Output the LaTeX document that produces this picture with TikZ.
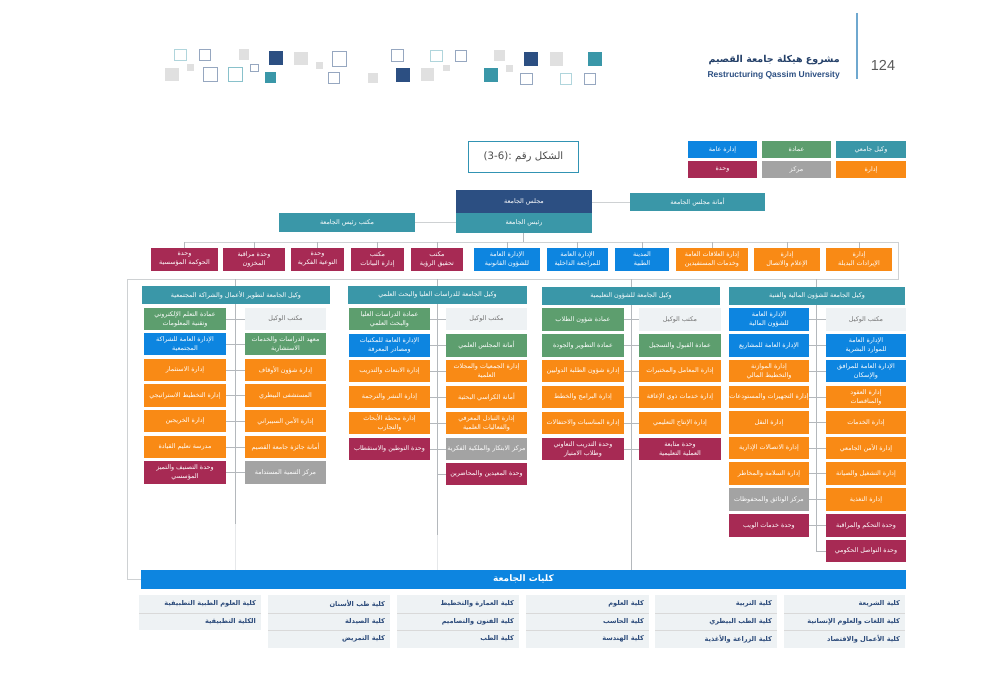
\documentclass[tikz,border=0pt]{standalone}
\usepackage{fontspec}
\setmainfont{Liberation Sans}
\usetikzlibrary{backgrounds}
\TeXXeTstate=1
\newfontfamily\arabicfont[Script=Arabic]{DejaVu Sans}
\newcommand{\AR}[1]{\beginR #1\endR}
\definecolor{cteal}{HTML}{3A97A8}
\definecolor{cgreen}{HTML}{5D9E6E}
\definecolor{cblue}{HTML}{0D85E0}
\definecolor{corange}{HTML}{F98A15}
\definecolor{cmaroon}{HTML}{A72A54}
\definecolor{cgray}{HTML}{A3A3A3}
\definecolor{clight}{HTML}{EEF2F4}
\definecolor{cnavy}{HTML}{2C4F82}
\definecolor{ctext}{HTML}{2B4A7A}
\definecolor{cline}{HTML}{B4B8BC}
\definecolor{cfaint}{HTML}{E6E8EA}
\definecolor{csq}{HTML}{E0E0E0}
\definecolor{crule}{HTML}{6FA8CF}
\tikzset{
  boxbase/.style={inner sep=0pt,outer sep=0pt,align=center,text=white,
    font=\arabicfont\fontsize{6.4}{9}\selectfont},
  vteal/.style={boxbase,fill=cteal},
  vgreen/.style={boxbase,fill=cgreen},
  vblue/.style={boxbase,fill=cblue},
  vorange/.style={boxbase,fill=corange},
  vmaroon/.style={boxbase,fill=cmaroon},
  vgray/.style={boxbase,fill=cgray},
  vlight/.style={boxbase,fill=clight,text=black!55},
  vnavy/.style={boxbase,fill=cnavy},
  collegecell/.style={inner sep=0pt,outer sep=0pt,fill=clight,
    text=ctext,font=\arabicfont\bfseries\fontsize{6.6}{8}\selectfont},
  conn/.style={draw=cline,line width=.6pt},
  connlight/.style={draw=cline!65,line width=.8pt},
  connfaint/.style={draw=cfaint,line width=.6pt},
  sqfill/.style={fill=#1,draw=none},
  sqline/.style={draw=#1,line width=.7pt,fill=none}
}
% name, style, x0, y0, x1, y1, text
\newcommand{\Bx}[7]{%
  \pgfmathsetmacro{\bxw}{#5-#3}\pgfmathsetmacro{\bxh}{#6-#4}%
  \node[#2,minimum width=\bxw pt,minimum height=\bxh pt] (#1) at ({(#3+#5)/2},{(#4+#6)/2}) {#7};}
% college cell: name, x0, y0, x1, y1, text
\newcommand{\Cc}[6]{%
  \pgfmathsetmacro{\bxw}{#4-#2}\pgfmathsetmacro{\bxh}{#5-#3}%
  \node[collegecell,minimum width=\bxw pt,minimum height=\bxh pt] (#1) at ({(#2+#4)/2},{(#3+#5)/2}) {};
  \node[collegecell,fill=none,anchor=east] (#1t) at ({#4-5},{(#3+#5)/2}) {#6};
}
\newcommand{\Sq}[5]{\path[#5] (#1,#2) rectangle (#3,#4);}
\begin{document}
\begin{tikzpicture}[x=1pt,y=-1pt]
\useasboundingbox (0,0) rectangle (1000,698);

% decorative squares
\foreach \a/\b/\c/\d in {239/49/249/60,294/52/308/65,316/62/323/69,494/50/505/61,550/52/563/66,165/68/179/81,187/64/194/71,368/73/378/83,421/68/434/81,443/65/450/71,506/65/513/72}
  {\Sq{\a}{\b}{\c}{\d}{sqfill=csq}}
\foreach \a/\b/\c/\d in {269/51/283/65,524/52/538/66,396/68/410/82}
  {\Sq{\a}{\b}{\c}{\d}{sqfill=cnavy}}
\foreach \a/\b/\c/\d in {588/52/602/66,265/72/276/83,484/68/498/82}
  {\Sq{\a}{\b}{\c}{\d}{sqfill=cteal}}
\foreach \a/\b/\c/\d in {174/49/186/60,430/50/442/61,560/73/571/84}
  {\Sq{\a}{\b}{\c}{\d}{sqline=cteal!40}}
\foreach \a/\b/\c/\d in {199/49/210/60,332/51/346/66,391/49/403/61,455/50/466/61,203/67/217/81,250/64/258/71,328/72/339/83,520/73/532/84,584/73/595/84}
  {\Sq{\a}{\b}{\c}{\d}{sqline=cnavy!50}}
\Sq{228}{67}{242}{81}{sqline=cteal!60}

% page header
\coordinate (rulea) at (857,13);
\coordinate (ruleb) at (857,79);
\draw[draw=crule,line width=1.2pt] (rulea) -- (ruleb);
\node[anchor=center,text=black!65,font=\fontsize{14.5}{16}\selectfont] (page) at (883,65) {124};
\node[anchor=east,text=cnavy!80!black,inner sep=0pt,font=\arabicfont\bfseries\fontsize{9.5}{12}\selectfont] (ptitle) at (840,60) {\AR{مشروع هيكلة جامعة القصيم}};
\node[anchor=east,text=cnavy,inner sep=0pt,font=\bfseries\fontsize{8.5}{10}\selectfont] (psub) at (840,75) {Restructuring Qassim University};

% legend
\Bx{la}{vblue}{688}{141}{757}{158}{\AR{إدارة عامة}}
\Bx{lb}{vgreen}{762}{141}{831}{158}{\AR{عمادة}}
\Bx{lc}{vteal}{836}{141}{906}{158}{\AR{وكيل جامعي}}
\Bx{ld}{vmaroon}{688}{161}{757}{178}{\AR{وحدة}}
\Bx{le}{vgray}{762}{161}{831}{178}{\AR{مركز}}
\Bx{lf}{vorange}{836}{161}{906}{178}{\AR{إدارة}}

% figure title
\node[draw=cteal!80!cblue,line width=1pt,fill=white,minimum width=110pt,minimum height=31pt,inner sep=0pt,text=black!70,
  font=\arabicfont\fontsize{10.2}{12}\selectfont] (title) at (523.5,157) {\beginR الشكل رقم \beginL:(3-6)\endL\endR};

% top of chart
\Bx{council}{vnavy}{456}{190}{592}{213}{\AR{مجلس الجامعة}}
\Bx{pres}{vteal}{456}{213}{592}{233}{\AR{رئيس الجامعة}}
\Bx{secr}{vteal}{630}{193}{765}{211}{\AR{أمانة مجلس الجامعة}}
\Bx{poff}{vteal}{279}{213}{415}{232}{\AR{مكتب رئيس الجامعة}}

% row of direct units
\Bx{r1}{vmaroon}{151}{248}{218}{271}{\AR{وحدة}\\\AR{الحوكمة المؤسسية}}
\Bx{r2}{vmaroon}{223}{248}{285}{271}{\AR{وحدة مراقبة}\\\AR{المخزون}}
\Bx{r3}{vmaroon}{291}{248}{344}{271}{\AR{وحدة}\\\AR{التوعية الفكرية}}
\Bx{r4}{vmaroon}{351}{248}{404}{271}{\AR{مكتب}\\\AR{إدارة البيانات}}
\Bx{r5}{vmaroon}{411}{248}{463}{271}{\AR{مكتب}\\\AR{تحقيق الرؤية}}
\Bx{r6}{vblue}{474}{248}{540}{271}{\AR{الإدارة العامة}\\\AR{للشؤون القانونية}}
\Bx{r7}{vblue}{547}{248}{608}{271}{\AR{الإدارة العامة}\\\AR{للمراجعة الداخلية}}
\Bx{r8}{vblue}{615}{248}{669}{271}{\AR{المدينة}\\\AR{الطبية}}
\Bx{r9}{vorange}{676}{248}{748}{271}{\AR{إدارة العلاقات العامة}\\\AR{وخدمات المستفيدين}}
\Bx{r10}{vorange}{754}{248}{820}{271}{\AR{إدارة}\\\AR{الإعلام والاتصال}}
\Bx{r11}{vorange}{826}{248}{892}{271}{\AR{إدارة}\\\AR{الإيرادات البديلة}}

% vice rectors
\Bx{h1}{vteal}{142}{286}{330}{304}{\AR{وكيل الجامعة لتطوير الأعمال والشراكة المجتمعية}}
\Bx{h2}{vteal}{348}{286}{527}{304}{\AR{وكيل الجامعة للدراسات العليا والبحث العلمي}}
\Bx{h3}{vteal}{542}{287}{720}{305}{\AR{وكيل الجامعة للشؤون التعليمية}}
\Bx{h4}{vteal}{729}{287}{905}{305}{\AR{وكيل الجامعة للشؤون المالية والفنية}}

% column 1
\Bx{a1l}{vgreen}{144}{308}{226}{330}{\AR{عمادة التعلم الإلكتروني}\\\AR{وتقنية المعلومات}}
\Bx{a2l}{vblue}{144}{333}{226}{355}{\AR{الإدارة العامة للشراكة}\\\AR{المجتمعية}}
\Bx{a3l}{vorange}{144}{359}{226}{381}{\AR{إدارة الاستثمار}}
\Bx{a4l}{vorange}{144}{384}{226}{407}{\AR{إدارة التخطيط الاستراتيجي}}
\Bx{a5l}{vorange}{144}{410}{226}{432}{\AR{إدارة الخريجين}}
\Bx{a6l}{vorange}{144}{436}{226}{458}{\AR{مدرسة تعليم القيادة}}
\Bx{a7l}{vmaroon}{144}{461}{226}{484}{\AR{وحدة التصنيف والتميز}\\\AR{المؤسسي}}
\Bx{a1r}{vlight}{245}{308}{326}{330}{\AR{مكتب الوكيل}}
\Bx{a2r}{vgreen}{245}{333}{326}{355}{\AR{معهد الدراسات والخدمات}\\\AR{الاستشارية}}
\Bx{a3r}{vorange}{245}{359}{326}{381}{\AR{إدارة شؤون الأوقاف}}
\Bx{a4r}{vorange}{245}{384}{326}{407}{\AR{المستشفى البيطري}}
\Bx{a5r}{vorange}{245}{410}{326}{432}{\AR{إدارة الأمن السيبراني}}
\Bx{a6r}{vorange}{245}{436}{326}{458}{\AR{أمانة جائزة جامعة القصيم}}
\Bx{a7r}{vgray}{245}{461}{326}{484}{\AR{مركز التنمية المستدامة}}

% column 2
\Bx{b1l}{vgreen}{349}{308}{430}{330}{\AR{عمادة الدراسات العليا}\\\AR{والبحث العلمي}}
\Bx{b2l}{vblue}{349}{334}{430}{357}{\AR{الإدارة العامة للمكتبات}\\\AR{ومصادر المعرفة}}
\Bx{b3l}{vorange}{349}{360}{430}{382}{\AR{إدارة الابتعاث والتدريب}}
\Bx{b4l}{vorange}{349}{386}{430}{408}{\AR{إدارة النشر والترجمة}}
\Bx{b5l}{vorange}{349}{412}{430}{434}{\AR{إدارة محطة الأبحاث}\\\AR{والتجارب}}
\Bx{b6l}{vmaroon}{349}{438}{430}{460}{\AR{وحدة التوطين والاستقطاب}}
\Bx{b1r}{vlight}{446}{308}{527}{330}{\AR{مكتب الوكيل}}
\Bx{b2r}{vgreen}{446}{334}{527}{357}{\AR{أمانة المجلس العلمي}}
\Bx{b3r}{vorange}{446}{360}{527}{382}{\AR{إدارة الجمعيات والمجلات}\\\AR{العلمية}}
\Bx{b4r}{vorange}{446}{386}{527}{408}{\AR{أمانة الكراسي البحثية}}
\Bx{b5r}{vorange}{446}{412}{527}{434}{\AR{إدارة التبادل المعرفي}\\\AR{والفعاليات العلمية}}
\Bx{b6r}{vgray}{446}{438}{527}{460}{\AR{مركز الابتكار والملكية الفكرية}}
\Bx{b7r}{vmaroon}{446}{463}{527}{485}{\AR{وحدة المعيدين والمحاضرين}}

% column 3
\Bx{c1l}{vgreen}{542}{308}{624}{331}{\AR{عمادة شؤون الطلاب}}
\Bx{c2l}{vgreen}{542}{334}{624}{357}{\AR{عمادة التطوير والجودة}}
\Bx{c3l}{vorange}{542}{360}{624}{382}{\AR{إدارة شؤون الطلبة الدوليين}}
\Bx{c4l}{vorange}{542}{386}{624}{408}{\AR{إدارة البرامج والخطط}}
\Bx{c5l}{vorange}{542}{412}{624}{434}{\AR{إدارة المناسبات والاحتفالات}}
\Bx{c6l}{vmaroon}{542}{438}{624}{460}{\AR{وحدة التدريب التعاوني}\\\AR{وطلاب الامتياز}}
\Bx{c1r}{vlight}{639}{308}{721}{331}{\AR{مكتب الوكيل}}
\Bx{c2r}{vgreen}{639}{334}{721}{357}{\AR{عمادة القبول والتسجيل}}
\Bx{c3r}{vorange}{639}{360}{721}{382}{\AR{إدارة المعامل والمختبرات}}
\Bx{c4r}{vorange}{639}{386}{721}{408}{\AR{إدارة خدمات ذوي الإعاقة}}
\Bx{c5r}{vorange}{639}{412}{721}{434}{\AR{إدارة الإنتاج التعليمي}}
\Bx{c6r}{vmaroon}{639}{438}{721}{460}{\AR{وحدة متابعة}\\\AR{العملية التعليمية}}

% column 4
\Bx{d1l}{vblue}{729}{308}{809}{331}{\AR{الإدارة العامة}\\\AR{للشؤون المالية}}
\Bx{d2l}{vblue}{729}{334}{809}{357}{\AR{الإدارة العامة للمشاريع}}
\Bx{d3l}{vorange}{729}{360}{809}{382}{\AR{إدارة الموازنة}\\\AR{والتخطيط المالي}}
\Bx{d4l}{vorange}{729}{386}{809}{408}{\AR{إدارة التجهيزات والمستودعات}}
\Bx{d5l}{vorange}{729}{411}{809}{434}{\AR{إدارة النقل}}
\Bx{d6l}{vorange}{729}{437}{809}{459}{\AR{إدارة الاتصالات الإدارية}}
\Bx{d7l}{vorange}{729}{462}{809}{485}{\AR{إدارة السلامة والمخاطر}}
\Bx{d8l}{vgray}{729}{488}{809}{511}{\AR{مركز الوثائق والمحفوظات}}
\Bx{d9l}{vmaroon}{729}{514}{809}{537}{\AR{وحدة خدمات الويب}}
\Bx{d1r}{vlight}{826}{308}{906}{331}{\AR{مكتب الوكيل}}
\Bx{d2r}{vblue}{826}{334}{906}{357}{\AR{الإدارة العامة}\\\AR{للموارد البشرية}}
\Bx{d3r}{vblue}{826}{360}{906}{382}{\AR{الإدارة العامة للمرافق}\\\AR{والإسكان}}
\Bx{d4r}{vorange}{826}{386}{906}{408}{\AR{إدارة العقود}\\\AR{والمناقصات}}
\Bx{d5r}{vorange}{826}{411}{906}{434}{\AR{إدارة الخدمات}}
\Bx{d6r}{vorange}{826}{437}{906}{459}{\AR{إدارة الأمن الجامعي}}
\Bx{d7r}{vorange}{826}{462}{906}{485}{\AR{إدارة التشغيل والصيانة}}
\Bx{d8r}{vorange}{826}{488}{906}{511}{\AR{إدارة التغذية}}
\Bx{d9r}{vmaroon}{826}{514}{906}{537}{\AR{وحدة التحكم والمراقبة}}
\Bx{d10r}{vmaroon}{826}{540}{906}{562}{\AR{وحدة التواصل الحكومي}}

% colleges
\Bx{colleges}{boxbase,fill=cblue,font=\arabicfont\bfseries\fontsize{9}{11}\selectfont}{141}{569.5}{906}{588.5}{\raisebox{-1.5pt}{\AR{كليات الجامعة}}}
\Cc{k11}{784}{595}{905}{613}{\AR{كلية الشريعة}}
\Cc{k12}{784}{613}{905}{630}{\AR{كلية اللغات والعلوم الإنسانية}}
\Cc{k13}{784}{630}{905}{648}{\AR{كلية الأعمال والاقتصاد}}
\Cc{k21}{655}{595}{777}{613}{\AR{كلية التربية}}
\Cc{k22}{655}{613}{777}{630}{\AR{كلية الطب البيطري}}
\Cc{k23}{655}{630}{777}{648}{\AR{كلية الزراعة والأغذية}}
\Cc{k31}{526}{595}{649}{613}{\AR{كلية العلوم}}
\Cc{k32}{526}{613}{649}{630}{\AR{كلية الحاسب}}
\Cc{k33}{526}{630}{649}{648}{\AR{كلية الهندسة}}
\Cc{k41}{397}{595}{519}{613}{\AR{كلية العمارة والتخطيط}}
\Cc{k42}{397}{613}{519}{630}{\AR{كلية الفنون والتصاميم}}
\Cc{k43}{397}{630}{519}{648}{\AR{كلية الطب}}
\Cc{k51}{268}{595}{390}{613}{\AR{كلية طب الأسنان}}
\Cc{k52}{268}{613}{390}{630}{\AR{كلية الصيدلة}}
\Cc{k53}{268}{630}{390}{648}{\AR{كلية التمريض}}
\Cc{k61}{139}{595}{261}{613}{\AR{كلية العلوم الطبية التطبيقية}}
\Cc{k62}{139}{613}{261}{630}{\AR{الكلية التطبيقية}}

% cell separators of the college tables
\foreach \k in {k1,k2,k3,k4,k5,k6}{
  \draw[white!85!black,line width=.5pt] (\k1.south west) -- (\k1.south east);
}
\foreach \k in {k1,k2,k3,k4,k5}{
  \draw[white!85!black,line width=.5pt] (\k2.south west) -- (\k2.south east);
}

% connectors, behind the boxes
\coordinate (busA) at (523,242);
\coordinate (busAl) at (184.5,242);
\coordinate (busAr) at (898,242);
\coordinate (busB) at (898,279);
\coordinate (busBl) at (127.5,279);
\coordinate (entry) at (127.5,579);
\coordinate (s1) at (235,279);
\coordinate (s2) at (437,279);
\coordinate (s3) at (631,279);
\coordinate (s4) at (816.5,279);
\coordinate (s1e) at (235,524);
\coordinate (s1f) at (235,570);
\coordinate (s2e) at (437,535);
\coordinate (s2f) at (437,570);
\coordinate (s3f) at (631,570);
\begin{scope}[on background layer]
  \draw[conn] (pres.south -| busA) -- (busA);
  \draw[connlight] (busAl) -- (busAr) -- (busB) -- (busBl) -- (entry) -- (colleges.west |- entry);
  \foreach \r in {r1,r2,r3,r4,r5,r6,r7,r8,r9,r10,r11}
    \draw[conn] (\r.north) -- (\r.north |- busA);
  \draw[connlight] (poff.east) -- (pres.west |- poff.east);
  \draw[connlight] (council.east |- secr.west) -- (secr.west);
  \draw[connfaint] (s1e) -- (s1f);
  \draw[connfaint] (s2e) -- (s2f);
  \draw[conn] (s1) -- (s1e);
  \draw[conn] (s2) -- (s2e);
  \draw[conn] (s3) -- (s3f);
  \draw[conn] (s4) |- (d10r.west);
  \foreach \c/\n in {a/7,b/6,c/6,d/9}{
    \foreach \i in {1,...,\n}
      \draw[conn] (\c\i l.east) -- (\c\i r.west);
  }
  \draw[conn] (s2 |- b7r.west) -- (b7r.west);
\end{scope}
\end{tikzpicture}
\end{document}
